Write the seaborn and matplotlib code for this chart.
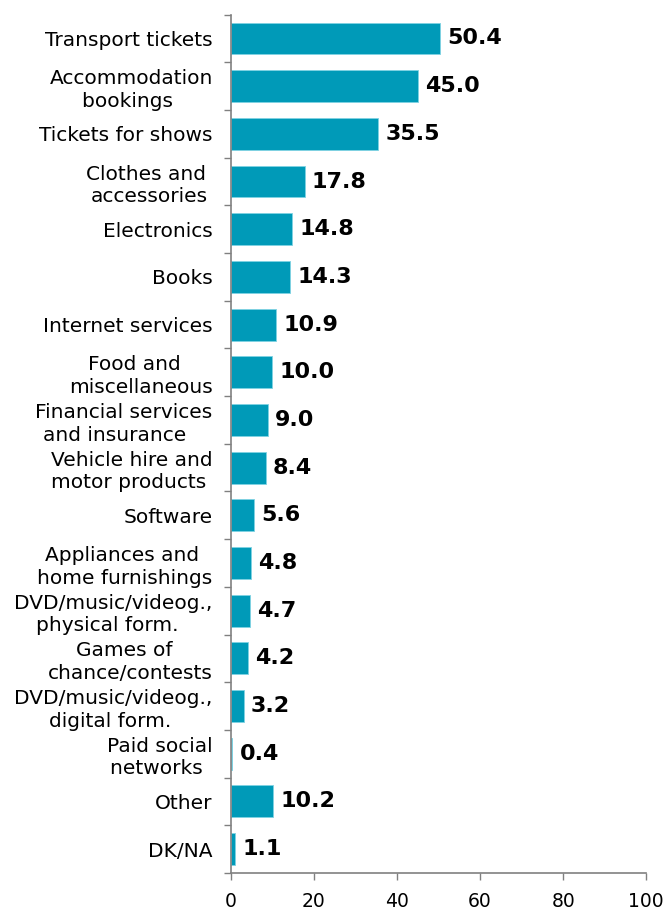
import matplotlib
matplotlib.use("Agg")
import matplotlib.pyplot as plt
import seaborn as sns
import pandas as pd

categories = [
    "Transport tickets",
    "Accommodation\nbookings ",
    "Tickets for shows",
    "Clothes and \naccessories",
    "Electronics",
    "Books",
    "Internet services",
    "Food and  \nmiscellaneous",
    "Financial services\nand insurance   ",
    "Vehicle hire and\nmotor products ",
    "Software",
    "Appliances and \nhome furnishings",
    "DVD/music/videog.,\nphysical form.  ",
    "Games of  \nchance/contests",
    "DVD/music/videog.,\ndigital form. ",
    "Paid social\nnetworks ",
    "Other",
    "DK/NA",
]
values = [50.4, 45.0, 35.5, 17.8, 14.8, 14.3, 10.9, 10.0, 9.0, 8.4,
          5.6, 4.8, 4.7, 4.2, 3.2, 0.4, 10.2, 1.1]
x_ticks = [0, 20, 40, 60, 80, 100]

bar_color = "#009AB8"

sns.set_style("white")
plt.rcParams["font.family"] = ["DejaVu Sans"]
plt.rcParams["text.color"] = "black"
plt.rcParams["xtick.labelcolor"] = "black"
plt.rcParams["ytick.labelcolor"] = "black"

df = pd.DataFrame({"category": categories, "value": values})

fig = plt.figure(figsize=(6.69, 9.15), dpi=100)
ax = fig.add_axes([0.345, 0.046, 0.621, 0.938])

sns.barplot(data=df, x="value", y="category", orient="h", color=bar_color,
            saturation=1, width=0.67, edgecolor="#7FD3E3", linewidth=0.6, ax=ax)

for i, v in enumerate(values):
    ax.annotate(f"{v:.1f}", xy=(v, i), xytext=(5, 0), textcoords="offset points",
                va="center", ha="left", fontsize=16, fontweight="bold",
                color="black")

ax.set_xlim(0, 100)
ax.set_ylim(len(categories) - 0.5, -0.5)
ax.set_xticks(x_ticks)
ax.set_xticklabels([str(t) for t in x_ticks], fontsize=13.5, color="black")
ax.set_xlabel("")
ax.set_ylabel("")

# category labels centred on bars, tick marks between categories
ax.set_yticks(range(len(categories)))
ax.set_yticklabels(categories, fontsize=14.5, multialignment="center",
                   linespacing=1.25, color="black")
ax.tick_params(axis="y", length=0, pad=13)
ax.set_yticks([i - 0.5 for i in range(len(categories) + 1)], minor=True)
ax.tick_params(axis="y", which="minor", length=5, width=1, color="#808080",
               direction="out", left=True)
ax.tick_params(axis="x", length=5, width=1, color="#808080",
               direction="out", bottom=True, pad=9)

for s in ["top", "right"]:
    ax.spines[s].set_visible(False)
for s in ["left", "bottom"]:
    ax.spines[s].set_color("#808080")
    ax.spines[s].set_linewidth(1.2)

fig.savefig("out.png", dpi=100)
